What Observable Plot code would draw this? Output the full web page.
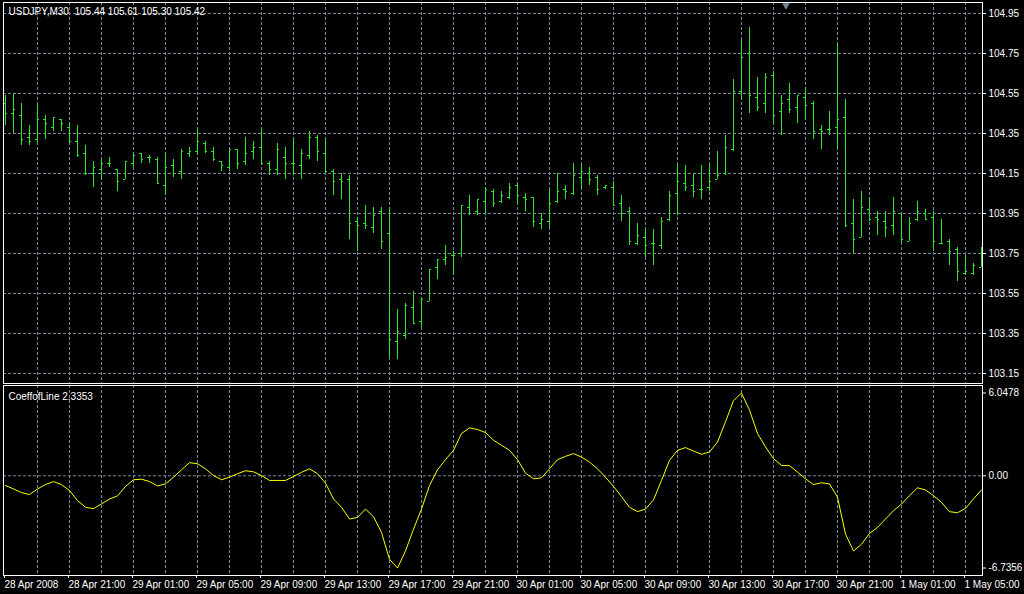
<!DOCTYPE html>
<html>
<head>
<meta charset="utf-8">
<script src="https://cdn.jsdelivr.net/npm/d3@7"></script>
<script src="https://cdn.jsdelivr.net/npm/@observablehq/plot@0.6"></script>
<style>
  html, body { margin: 0; padding: 0; background: #000; width: 1024px; height: 594px; overflow: hidden; }
  #chart { position: relative; width: 1024px; height: 594px; background: #000; }
  #chart svg { position: absolute; left: 0; display: block; }
</style>
</head>
<body>
<div id="chart"></div>
<script>
// ---- Texts ----
const headerLabel = "USDJPY,M30 \u00a0105.44 105.61 105.30 105.42";
const indicatorLabel = "CoeffofLine 2.3353";

// ---- Price bars (M30, one per bar from 28 Apr 2008 17:00) ----
const opens = [
  104.50,104.45,104.44,104.33,104.32,104.42,104.38,104.42,104.38,104.31,
  104.25,104.15,104.17,104.20,104.17,104.12,104.20,104.25,104.23,104.22,
  104.09,104.19,104.16,104.25,104.26,104.30,104.26,104.21,104.18,104.27,
  104.21,104.26,104.28,104.20,104.17,104.23,104.20,104.19,104.24,104.33,
  104.25,104.16,104.12,104.12,103.91,103.90,103.88,103.96,103.85,103.31,
  103.34,103.48,103.41,103.51,103.68,103.72,103.74,103.75,103.98,103.96,
  104.01,104.06,104.01,104.03,104.09,104.03,104.03,103.90,103.91,104.01,
  104.07,104.05,104.13,104.15,104.13,104.08,104.08,104.00,103.96,103.80,
  103.83,103.80,103.79,103.92,104.05,104.10,104.09,104.07,104.08,104.12,
  104.15,104.27,104.56,104.75,104.53,104.50,104.64,104.46,104.52,104.48,
  104.53,104.50,104.37,104.37,104.38,104.43,103.90,103.83,103.97,103.93,
  103.91,103.89,103.95,103.81,103.92,103.95,103.93,103.80,103.81,103.77,
  103.65,103.65,103.68
];
const highs = [
  104.54,104.55,104.50,104.39,104.49,104.44,104.43,104.42,104.40,104.39,
  104.29,104.21,104.22,104.23,104.17,104.21,104.25,104.25,104.24,104.23,
  104.25,104.22,104.27,104.28,104.37,104.31,104.28,104.21,104.27,104.27,
  104.33,104.31,104.37,104.21,104.30,104.28,104.32,104.27,104.36,104.34,
  104.32,104.17,104.15,104.14,103.93,103.99,103.98,103.98,103.98,103.47,
  103.50,103.56,103.53,103.67,103.72,103.79,103.76,103.99,104.04,104.02,
  104.08,104.07,104.06,104.10,104.10,104.05,104.03,103.95,104.07,104.15,
  104.09,104.20,104.19,104.18,104.14,104.09,104.11,104.04,103.98,103.90,
  103.87,103.87,103.93,104.06,104.19,104.19,104.15,104.19,104.19,104.26,
  104.34,104.62,104.82,104.88,104.63,104.65,104.66,104.54,104.60,104.54,
  104.58,104.51,104.39,104.46,104.80,104.52,104.02,104.06,104.03,103.96,
  103.96,104.03,103.95,103.93,104.01,103.97,103.96,103.92,103.82,103.78,
  103.74,103.70,103.78
];
const lows = [
  104.39,104.35,104.29,104.29,104.30,104.32,104.36,104.36,104.30,104.23,
  104.14,104.08,104.12,104.18,104.06,104.12,104.18,104.20,104.20,104.10,
  104.04,104.13,104.12,104.23,104.24,104.25,104.21,104.16,104.16,104.17,
  104.19,104.22,104.20,104.14,104.14,104.12,104.14,104.12,104.22,104.21,
  104.15,104.04,104.02,103.82,103.76,103.87,103.85,103.77,103.23,103.22,
  103.32,103.40,103.38,103.51,103.62,103.69,103.64,103.73,103.94,103.94,
  103.95,103.98,104.00,104.02,104.00,103.96,103.88,103.87,103.88,104.00,
  104.02,104.04,104.07,104.09,104.04,104.07,103.99,103.91,103.79,103.79,
  103.73,103.69,103.77,103.91,103.94,104.06,104.03,104.02,104.06,104.12,
  104.14,104.26,104.52,104.45,104.46,104.45,104.40,104.34,104.45,104.40,
  104.42,104.32,104.27,104.34,104.27,103.88,103.75,103.83,103.91,103.84,
  103.83,103.84,103.80,103.81,103.91,103.92,103.76,103.80,103.69,103.61,
  103.64,103.64,103.68
];
const closes = [
  104.45,104.47,104.32,104.31,104.42,104.40,104.43,104.40,104.31,104.24,
  104.15,104.18,104.20,104.20,104.11,104.21,104.24,104.22,104.23,104.10,
  104.18,104.15,104.26,104.26,104.31,104.26,104.22,104.19,104.27,104.20,
  104.25,104.28,104.20,104.17,104.27,104.20,104.20,104.25,104.33,104.26,
  104.16,104.11,104.11,103.90,103.89,103.89,103.94,103.81,103.32,103.36,
  103.49,103.40,103.52,103.67,103.72,103.73,103.74,103.99,103.95,104.02,
  104.07,104.00,104.04,104.08,104.04,104.02,103.91,103.92,104.00,104.06,
  104.06,104.14,104.16,104.12,104.07,104.09,103.99,103.95,103.81,103.84,
  103.79,103.80,103.91,104.04,104.11,104.08,104.06,104.07,104.11,104.14,
  104.28,104.56,104.73,104.54,104.48,104.63,104.44,104.50,104.47,104.54,
  104.49,104.36,104.36,104.37,104.42,103.89,103.82,103.98,103.92,103.92,
  103.88,103.96,103.82,103.90,103.96,103.92,103.81,103.80,103.76,103.66,
  103.66,103.69,103.71
];

// ---- Indicator (CoeffofLine) ----
const coeff = [
  -0.71,-0.96,-1.23,-1.37,-0.96,-0.64,-0.42,-0.64,-1.08,-1.81,
  -2.30,-2.40,-2.06,-1.69,-1.47,-0.78,-0.29,-0.25,-0.42,-0.74,
  -0.59,-0.10,0.44,0.96,0.88,0.51,0.02,-0.29,-0.10,0.15,
  0.37,0.29,0.02,-0.34,-0.34,-0.34,-0.05,0.25,0.51,0.15,
  -0.54,-1.69,-2.30,-3.16,-3.04,-2.43,-2.99,-4.14,-6.10,-6.7356,
  -5.49,-3.90,-2.43,-0.71,0.44,1.18,1.86,3.09,3.50,3.38,
  3.16,2.60,2.23,1.86,1.18,0.20,-0.22,-0.15,0.51,1.18,
  1.42,1.62,1.37,1.00,0.51,-0.10,-0.78,-1.52,-2.30,-2.62,
  -2.43,-1.76,-0.34,1.13,1.86,2.06,1.81,1.57,1.74,2.47,
  3.94,5.49,6.0478,4.80,3.09,2.11,1.25,0.76,0.74,0.27,
  -0.22,-0.64,-0.51,-0.59,-1.57,-4.26,-5.49,-5.00,-4.21,-3.77,
  -3.16,-2.55,-2.06,-1.45,-0.88,-1.03,-1.45,-1.94,-2.62,-2.70,
  -2.38,-1.69,-1.03
];

// ---- Axes ----
const priceTicks = [104.95, 104.75, 104.55, 104.35, 104.15, 103.95, 103.75, 103.55, 103.35, 103.15];
const coeffTicks = [6.0478, 0, -6.7356];
const coeffTickLabels = ["6.0478", "0.00", "-6.7356"];
const timeTickBars = [0, 8, 16, 24, 32, 40, 48, 56, 64, 72, 80, 88, 96, 104, 112, 120];
const timeTickLabels = ["28 Apr 2008", "28 Apr 21:00", "29 Apr 01:00", "29 Apr 05:00", "29 Apr 09:00",
  "29 Apr 13:00", "29 Apr 17:00", "29 Apr 21:00", "30 Apr 01:00", "30 Apr 05:00", "30 Apr 09:00",
  "30 Apr 13:00", "30 Apr 17:00", "30 Apr 21:00", "1 May 01:00", "1 May 05:00"];
const gridBars = d3.range(4, 121, 4);
const chartShift = [97.56];

// ---- Build ----
const bars = opens.map((o, i) => ({i, open: o, high: highs[i], low: lows[i], close: closes[i]}));
const coeffData = coeff.map((v, i) => ({i, v}));

const green = "#2ee62e";
const gridColor = "#778899";
const font = "'Liberation Sans', Arial, sans-serif";
const baseStyle = {background: "#000", color: "#fff", fontFamily: font, fontSize: "10px", overflow: "visible"};
const xOpt = {domain: [0, 122], range: [5, 981], axis: null, label: null};
const dash = "3,2";

const topPlot = Plot.plot({
  width: 1024, height: 384,
  marginLeft: 3, marginRight: 42, marginTop: 2, marginBottom: 1,
  x: xOpt,
  y: {domain: [103.15, 104.95], range: [373, 13], axis: null, label: null},
  style: baseStyle,
  marks: [
    Plot.ruleY(priceTicks, {stroke: gridColor, strokeDasharray: dash}),
    Plot.ruleX(gridBars, {stroke: gridColor, strokeDasharray: dash}),
    Plot.ruleX(bars, {x: "i", y1: "low", y2: "high", stroke: green}),
    Plot.ruleY(bars, {y: "open", x1: d => d.i - 0.25, x2: "i", stroke: green}),
    Plot.ruleY(bars, {y: "close", x1: "i", x2: d => d.i + 0.25, stroke: green}),
    Plot.frame({stroke: "#fff"}),
    Plot.axisY(priceTicks, {anchor: "right", label: null, tickSize: 3, tickPadding: 3, tickFormat: d => d.toFixed(2), stroke: "#fff", fill: "#fff"}),
    Plot.text([headerLabel], {frameAnchor: "top-left", dx: 5, dy: 5, lineAnchor: "top", textAnchor: "start", fill: "#fff"}),
    Plot.dot(chartShift, {x: d => d, frameAnchor: "top", dy: 3, symbol: "triangle", rotate: 180, r: 2.8, fill: gridColor, stroke: null})
  ]
});

const bottomPlot = Plot.plot({
  width: 1024, height: 210,
  marginLeft: 3, marginRight: 42, marginTop: 1, marginBottom: 19,
  x: xOpt,
  y: {domain: [-6.7356, 6.0478], range: [183.5, 8.5], axis: null, label: null},
  style: baseStyle,
  marks: [
    Plot.ruleY([0], {stroke: gridColor, strokeDasharray: dash}),
    Plot.ruleX(gridBars, {stroke: gridColor, strokeDasharray: dash}),
    Plot.line(coeffData, {x: "i", y: "v", stroke: "#ffff00", strokeWidth: 1}),
    Plot.frame({stroke: "#fff"}),
    Plot.axisY(coeffTicks, {anchor: "right", label: null, tickSize: 3, tickPadding: 3, tickFormat: (d, i) => coeffTickLabels[i], stroke: "#fff", fill: "#fff"}),
    Plot.axisX(timeTickBars, {anchor: "bottom", label: null, tickSize: 3, tickPadding: 2, tickFormat: (d, i) => timeTickLabels[i], textAnchor: "start", dx: -1, stroke: "#fff", fill: "#fff"}),
    Plot.text([indicatorLabel], {frameAnchor: "top-left", dx: 5, dy: 7, lineAnchor: "top", textAnchor: "start", fill: "#fff"})
  ]
});

const chart = document.getElementById("chart");
topPlot.style.top = "0px";
bottomPlot.style.top = "384px";
chart.appendChild(topPlot);
chart.appendChild(bottomPlot);
</script>
</body>
</html>
